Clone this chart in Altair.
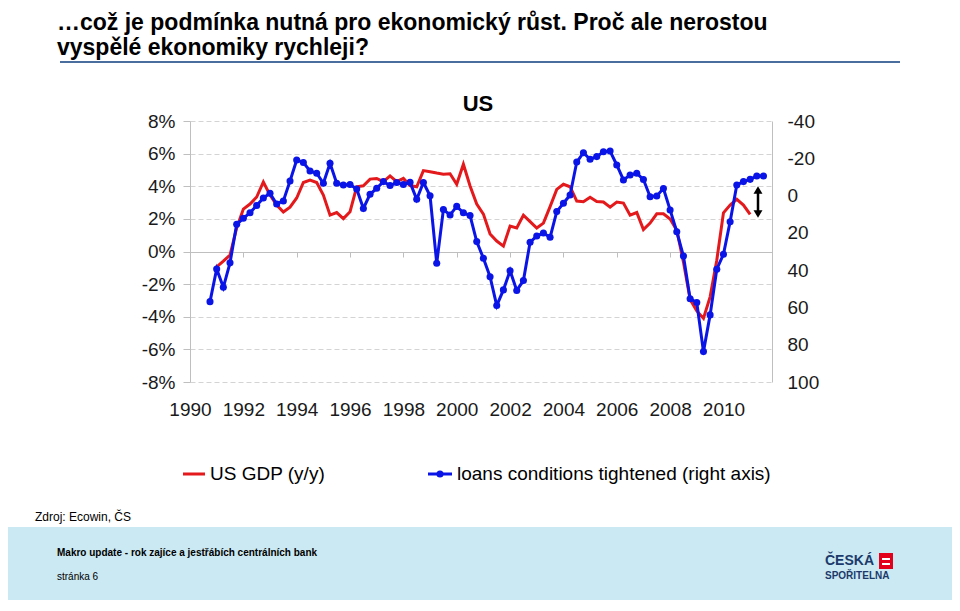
import altair as alt
import pandas as pd

FONT = "Liberation Sans"
NARROW = "Liberation Sans Narrow, Liberation Sans"

# ---------------- data ----------------
loans_start = "1990Q4"
loans = [56.9, 39.4, 49.2, 36.1, 15.4, 12.2, 9.2, 5.3, 1.3, -1.2,
         4.5, 2.9, -7.8, -19.1, -17.7, -13.2, -12.0, -6.6, -17.3, -6.6,
         -5.7, -5.9, -3.5, 6.9, -0.7, -3.9, -7.5, -5.4, -7.0, -5.9,
         -7.1, 2.0, -7.0, 0.1, 36.3, 7.5, 10.4, 5.8, 9.2, 10.7,
         24.7, 33.6, 43.5, 59.0, 50.6, 40.3, 50.9, 45.6, 25.0, 21.7,
         20.1, 22.4, 8.6, 4.1, -0.3, -18.0, -23.0, -19.5, -20.9, -23.5,
         -23.9, -16.4, -8.4, -11.0, -12.0, -8.6, 0.6, 0.2, -3.8, 7.7,
         19.4, 32.4, 55.3, 57.4, 83.7, 64.0, 39.5, 31.5, 14.0, -5.7,
         -7.5, -8.7, -10.5, -10.5]

gdp_start = "1991Q1"
gdp = [-0.94, -0.59, -0.22, 1.44, 2.60, 2.91, 3.34, 4.26, 3.46, 2.85,
       2.42, 2.72, 3.28, 4.23, 4.38, 4.23, 3.46, 2.23, 2.39, 2.02,
       2.44, 3.97, 4.03, 4.44, 4.48, 4.28, 4.63, 4.28, 4.48, 4.04,
       3.97, 4.96, 4.89, 4.81, 4.74, 4.77, 4.12, 5.35, 4.02, 2.91,
       2.29, 1.07, 0.64, 0.33, 1.56, 1.44, 2.23, 1.83, 1.44, 1.74,
       2.75, 3.81, 4.12, 3.97, 3.09, 3.05, 3.32, 3.07, 3.03, 2.72,
       3.03, 2.97, 2.23, 2.39, 1.34, 1.74, 2.31, 2.31, 1.99, 1.31,
       -0.65, -2.94, -3.64, -4.10, -2.78, -0.53, 2.37, 2.85, 3.20, 2.85,
       2.28]

x_years = [1990, 1992, 1994, 1996, 1998, 2000, 2002, 2004, 2006, 2008, 2010]
left_ticks = [-8, -6, -4, -2, 0, 2, 4, 6, 8]
right_ticks = [-40, -20, 0, 20, 40, 60, 80, 100]
series_names = ["US GDP (y/y)", "loans conditions tightened (right axis)"]

title_lines = ["…což je podmínka nutná pro ekonomický růst. Proč ale nerostou",
               "vyspělé ekonomiky rychleji?"]
chart_title = "US"
source_text = "Zdroj: Ecowin, ČS"
footer_title = "Makro  update - rok zajíce a jestřábích centrálních bank"
footer_page = "stránka 6"
logo_lines = ["ČESKÁ", "SPOŘITELNA"]


def quarter_labels(start, n):
    y, q = int(start[:4]), int(start[-1])
    out = []
    for _ in range(n):
        out.append(f"{y}Q{q}")
        q += 1
        if q > 4:
            q, y = 1, y + 1
    return out


def to_t(lbl):
    return int(lbl[:4]) + (int(lbl[-1]) - 1) * 0.25


df_loans = pd.DataFrame({"q": quarter_labels(loans_start, len(loans)), "loans": loans})
df_loans["t"] = df_loans["q"].map(to_t)
df_gdp = pd.DataFrame({"q": quarter_labels(gdp_start, len(gdp)), "gdp": gdp})
df_gdp["t"] = df_gdp["q"].map(to_t)

RED = "#e3191c"
BLUE = "#0a14e6"
GRAY = "#bfbfbf"
LBL = "#1a1a1a"

x_axis = alt.Axis(values=x_years, format="d", offset=-130, tickSize=5,
                  tickColor=GRAY, domainColor=GRAY, labelPadding=143,
                  labelFontSize=19, labelFont=FONT, labelColor=LBL,
                  grid=False, title=None, labelFlush=False, labelOverlap=False)
x_enc = alt.X("t:Q", scale=alt.Scale(domain=[1990, 2011.82], nice=False, zero=False),
              axis=x_axis)

gdp_line = alt.Chart(df_gdp).mark_line(color=RED, strokeWidth=3).encode(
    x=x_enc,
    y=alt.Y("gdp:Q", scale=alt.Scale(domain=[-8, 8], nice=False),
            axis=alt.Axis(values=left_ticks, labelExpr="datum.value + '%'",
                          grid=True, gridDash=[5, 3], gridColor="#d4d4d4",
                          domainColor=GRAY, tickColor=GRAY, tickSize=7,
                          labelPadding=8, labelFontSize=19, labelFont=FONT,
                          labelColor=LBL, title=None)),
)

loans_line = alt.Chart(df_loans).mark_line(
    color=BLUE, strokeWidth=3,
    point=alt.OverlayMarkDef(filled=True, size=50, color=BLUE, opacity=1),
).encode(
    x=x_enc,
    y=alt.Y("loans:Q", scale=alt.Scale(domain=[-40, 100], nice=False, reverse=True),
            axis=alt.Axis(orient="right", values=right_ticks, grid=False,
                          labelExpr="'' + datum.value",
                          domainColor=GRAY, ticks=False, labelPadding=15,
                          labelFontSize=19, labelFont=FONT, labelColor=LBL,
                          title=None)),
)


def txt(s, x, y, size, bold=False, color="#000000", align="left", font=FONT):
    return alt.Chart(pd.DataFrame({"label": [s]})).mark_text(
        align=align, baseline="middle", fontSize=size,
        fontWeight="bold" if bold else "normal", color=color, font=font,
    ).encode(x=alt.value(x), y=alt.value(y), text="label:N")


def rect(x, x2, y, y2, color):
    return alt.Chart(pd.DataFrame({"a": [0]})).mark_rect(color=color).encode(
        x=alt.value(x), x2=alt.value(x2), y=alt.value(y), y2=alt.value(y2))


def rule(x, x2, y, y2, color, width):
    return alt.Chart(pd.DataFrame({"a": [0]})).mark_rule(color=color, strokeWidth=width).encode(
        x=alt.value(x), x2=alt.value(x2), y=alt.value(y), y2=alt.value(y2))


def pt(x, y, shape, size, color):
    return alt.Chart(pd.DataFrame({"a": [0]})).mark_point(
        shape=shape, filled=True, size=size, color=color, opacity=1).encode(
        x=alt.value(x), y=alt.value(y))


deco = [
    # slide header
    txt(title_lines[0], -133, -98, 23, bold=True),
    txt(title_lines[1], -133, -73, 23, bold=True),
    rule(-130, 710, -59, -59, "#4a6e9e", 2),
    # chart title
    txt(chart_title, 288, -17, 22, bold=True, align="center"),
    # legend
    rule(-7, 15, 353, 353, RED, 3),
    txt(series_names[0], 20, 353, 19),
    rule(238, 262, 353, 353, BLUE, 3),
    pt(250, 353, "circle", 50, BLUE),
    txt(series_names[1], 267, 353, 19),
    # arrow
    rule(568, 568, 68, 94, "#000000", 2.5),
    pt(568, 69, "triangle-up", 80, "#000000"),
    pt(568, 93, "triangle-down", 80, "#000000"),
    # source
    txt(source_text, -155, 396, 12),
    # footer band
    rect(-200, 800, 406, 500, "#cbe9f2"),
    txt(footer_title, -133, 432, 10, bold=True, font=NARROW),
    txt(footer_page, -133, 456, 10, font=NARROW),
    txt(logo_lines[0], 635, 440, 14, bold=True, color="#1b3a6b", font=NARROW),
    txt(logo_lines[1], 635, 455, 10, bold=True, color="#1b3a6b", font=NARROW),
    rect(689, 703, 432, 448, "#e2001a"),
    rule(692, 700, 438, 438, "#ffffff", 2),
    rule(692, 700, 443, 443, "#ffffff", 2),
]

chart = alt.layer(gdp_line, loans_line, *deco).resolve_scale(y="independent").properties(
    width=582, height=261,
    padding={"left": 182, "top": 113, "right": 180, "bottom": 218},
    autosize=alt.AutoSizeParams(type="none"),
    background="white",
).configure_view(stroke=None)

chart.save("out.html", embed_options={"renderer": "svg", "actions": False})
